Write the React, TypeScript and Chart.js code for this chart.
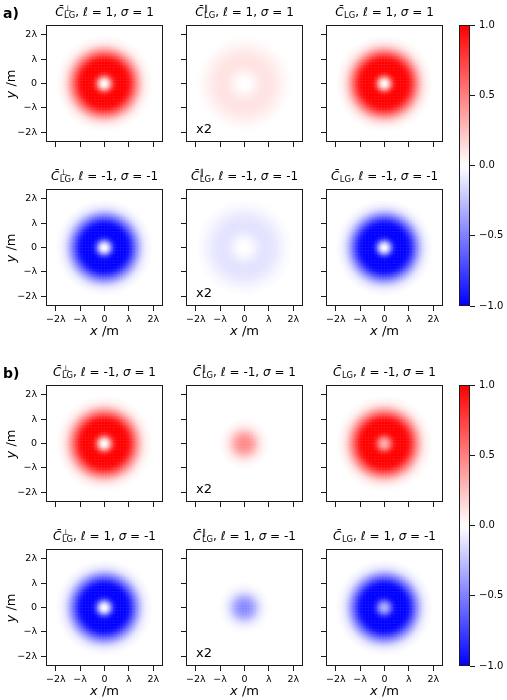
import React, { useEffect, useRef } from 'react';
import { Chart, registerables } from 'chart.js';

Chart.register(...registerables);

// ---------- data ----------
// radial positions (in units of λ) at which the colour value was read
const RADII = [0, 0.1, 0.2, 0.3, 0.4, 0.5, 0.6, 0.7, 0.8, 0.9, 1.0, 1.1, 1.2, 1.3, 1.4, 1.5, 1.6, 1.7, 1.8, 1.9, 2.0];

// group a)
const PROFILE_A_PERP = [0.0, 0.08, 0.3, 0.6, 0.85, 0.97, 1.0, 1.0, 1.0, 0.98, 0.92, 0.8, 0.65, 0.5, 0.36, 0.23, 0.13, 0.07, 0.037, 0.016, 0.0];
const PROFILE_A_PAR = [0.0, 0.0, 0.01, 0.025, 0.045, 0.065, 0.085, 0.1, 0.11, 0.11, 0.11, 0.105, 0.095, 0.085, 0.07, 0.055, 0.04, 0.028, 0.016, 0.006, 0.0];
const PROFILE_A_TOTAL = [0.0, 0.09, 0.32, 0.62, 0.87, 0.98, 1.0, 1.0, 1.0, 0.98, 0.93, 0.82, 0.67, 0.52, 0.37, 0.24, 0.14, 0.075, 0.04, 0.017, 0.0];
// group b)
const PROFILE_B_PERP = [0.0, 0.08, 0.3, 0.6, 0.85, 0.97, 1.0, 1.0, 1.0, 0.98, 0.92, 0.8, 0.65, 0.5, 0.36, 0.23, 0.13, 0.07, 0.037, 0.016, 0.0];
const PROFILE_B_PAR = [0.47, 0.46, 0.43, 0.38, 0.31, 0.23, 0.15, 0.09, 0.05, 0.025, 0.01, 0.0, 0.0, 0.0, 0.0, 0.0, 0.0, 0.0, 0.0, 0.0, 0.0];
const PROFILE_B_TOTAL = [0.33, 0.38, 0.52, 0.72, 0.9, 0.98, 1.0, 1.0, 1.0, 0.98, 0.92, 0.8, 0.65, 0.5, 0.36, 0.23, 0.13, 0.07, 0.037, 0.016, 0.0];

const ROW_SIGNS = [1, -1];
const ELL_VALUES = [['1', '-1'], ['-1', '1']];
const SIGMA_VALUES = [['1', '-1'], ['1', '-1']];
const GROUP_LABELS = ['a)', 'b)'];
const COMPONENT_SUPS = ['⊥', '∥', ''];
const SCALE_NOTES = ['', 'x2', ''];

const TICK_VALUES = [-2, -1, 0, 1, 2];
const TICK_LABELS = ['−2λ', '−λ', '0', 'λ', '2λ'];
const CBAR_TICKS = [-1, -0.5, 0, 0.5, 1];
const CBAR_LABELS = ['−1.0', '−0.5', '0.0', '0.5', '1.0'];
const AXIS_LIMIT = 2.4;

const GROUP_PROFILES = [
  [PROFILE_A_PERP, PROFILE_A_PAR, PROFILE_A_TOTAL],
  [PROFILE_B_PERP, PROFILE_B_PAR, PROFILE_B_TOTAL],
];

// ---------- layout ----------
const FONT = '"DejaVu Sans", sans-serif';
const COL_LEFT = [46, 186, 326];
const ROW_TOP = [[25, 189], [385, 549]];
const SIZE = 117;
const ML = 44, MR = 6, MT = 6, MB = 24;
const CB_LEFT = 459, CB_WIDTH = 11, CB_HEIGHT = 281;
const CML = 2, CMT = 8, CMB = 8, CW = 37;
const GRID_N = 80;
const TICK_LEN = 5;
const INK = '#1a1a1a';

function bwr(v: number): string {
  const c = Math.max(-1, Math.min(1, v));
  if (c >= 0) {
    const g = Math.round(255 * (1 - c));
    return `rgb(255,${g},${g})`;
  }
  const g = Math.round(255 * (1 + c));
  return `rgb(${g},${g},255)`;
}

function profileAt(profile: number[], r: number): number {
  const last = RADII.length - 1;
  if (r >= RADII[last]) return profile[last];
  let i = 0;
  while (i < last - 1 && RADII[i + 1] <= r) i++;
  const t = (r - RADII[i]) / (RADII[i + 1] - RADII[i]);
  return profile[i] * (1 - t) + profile[i + 1] * t;
}

function buildCells(profile: number[], sign: number) {
  const pts: { x: number; y: number }[] = [];
  const cols: string[] = [];
  const step = (2 * AXIS_LIMIT) / GRID_N;
  for (let i = 0; i < GRID_N; i++) {
    for (let j = 0; j < GRID_N; j++) {
      const x = -AXIS_LIMIT + (i + 0.5) * step;
      const y = -AXIS_LIMIT + (j + 0.5) * step;
      const v = sign * profileAt(profile, Math.hypot(x, y));
      if (Math.abs(v) < 0.002) continue;
      pts.push({ x, y });
      cols.push(bwr(v));
    }
  }
  return { pts, cols };
}

const framePlugin = {
  id: 'frame',
  afterDatasetsDraw(chart: any) {
    const { ctx, chartArea: a } = chart;
    ctx.save();
    ctx.strokeStyle = INK;
    ctx.lineWidth = 1;
    ctx.strokeRect(a.left + 0.5, a.top + 0.5, a.right - a.left - 1, a.bottom - a.top - 1);
    ctx.restore();
  },
};

function zeroPad(s: any) {
  s.paddingTop = 0;
  s.paddingBottom = 0;
  s.paddingLeft = 0;
  s.paddingRight = 0;
}

function axisOptions(horizontal: boolean, showLabels: boolean) {
  return {
    type: 'linear',
    min: -AXIS_LIMIT,
    max: AXIS_LIMIT,
    offset: false,
    afterBuildTicks: (s: any) => {
      s.ticks = TICK_VALUES.map((v) => ({ value: v }));
    },
    afterFit: (s: any) => {
      if (horizontal) s.height = MB;
      else s.width = ML;
      zeroPad(s);
    },
    ticks: {
      display: showLabels,
      autoSkip: false,
      maxRotation: 0,
      padding: horizontal ? 3 : 4,
      color: '#000',
      font: { family: FONT, size: 9.5 },
      callback: (value: any) => {
        const k = TICK_VALUES.indexOf(Number(value));
        return k >= 0 ? TICK_LABELS[k] : '';
      },
    },
    grid: {
      display: true,
      drawOnChartArea: false,
      drawTicks: true,
      tickLength: TICK_LEN,
      color: INK,
      lineWidth: 1,
    },
    border: { display: false },
  };
}

function Panel(props: { profile: number[]; sign: number; left: number; top: number; showX: boolean; showY: boolean }) {
  const ref = useRef<HTMLCanvasElement>(null);
  useEffect(() => {
    const { pts, cols } = buildCells(props.profile, props.sign);
    const side = SIZE / GRID_N;
    const chart = new Chart(ref.current as HTMLCanvasElement, {
      type: 'scatter',
      data: {
        datasets: [
          {
            data: pts,
            pointStyle: 'rect',
            pointRadius: side / Math.SQRT2 + 0.3,
            pointBorderWidth: 0,
            pointBackgroundColor: cols,
            backgroundColor: cols,
            borderWidth: 0,
            clip: 0,
          } as any,
        ],
      },
      options: {
        responsive: false,
        animation: false,
        events: [],
        layout: { padding: { top: MT, right: MR, left: 0, bottom: 0 } },
        plugins: { legend: { display: false }, tooltip: { enabled: false } },
        scales: {
          x: axisOptions(true, props.showX) as any,
          y: axisOptions(false, props.showY) as any,
        },
      },
      plugins: [framePlugin],
    });
    return () => chart.destroy();
  }, []);
  const w = ML + SIZE + MR;
  const h = MT + SIZE + MB;
  return (
    <canvas
      ref={ref}
      width={w}
      height={h}
      style={{ position: 'absolute', left: props.left - ML, top: props.top - MT, width: w, height: h }}
    />
  );
}

// the colour bar shows the colour map sampled over its full range
const CBAR_LEVELS: number[] = [];
for (let i = 0; i < 140; i++) CBAR_LEVELS.push(-1 + (i + 0.5) * (2 / 140));

function ColorBar(props: { top: number }) {
  const ref = useRef<HTMLCanvasElement>(null);
  useEffect(() => {
    const chart = new Chart(ref.current as HTMLCanvasElement, {
      type: 'bar',
      data: {
        datasets: [
          {
            data: CBAR_LEVELS.map((v) => ({ x: 1, y: v })),
            backgroundColor: CBAR_LEVELS.map(bwr),
            borderWidth: 0,
            barPercentage: 1,
            categoryPercentage: 1,
          } as any,
        ],
      },
      options: {
        indexAxis: 'y',
        responsive: false,
        animation: false,
        events: [],
        layout: { padding: { left: CML, top: CMT, bottom: CMB, right: 0 } },
        plugins: { legend: { display: false }, tooltip: { enabled: false } },
        scales: {
          x: { type: 'linear', display: false, min: 0, max: 1, offset: false },
          y: {
            type: 'linear',
            position: 'right',
            min: -1,
            max: 1,
            offset: false,
            afterBuildTicks: (s: any) => {
              s.ticks = CBAR_TICKS.map((v) => ({ value: v }));
            },
            afterFit: (s: any) => {
              s.width = CW;
              zeroPad(s);
            },
            ticks: {
              autoSkip: false,
              padding: 4,
              color: '#000',
              font: { family: FONT, size: 10 },
              callback: (value: any) => {
                const k = CBAR_TICKS.indexOf(Number(value));
                return k >= 0 ? CBAR_LABELS[k] : '';
              },
            },
            grid: { display: true, drawOnChartArea: false, drawTicks: true, tickLength: TICK_LEN, color: INK, lineWidth: 1, offset: false },
            border: { display: false },
          },
        } as any,
      },
      plugins: [framePlugin],
    });
    return () => chart.destroy();
  }, []);
  const w = CML + CB_WIDTH + CW;
  const h = CMT + CB_HEIGHT + CMB;
  return (
    <canvas
      ref={ref}
      width={w}
      height={h}
      style={{ position: 'absolute', left: CB_LEFT - CML, top: props.top - CMT, width: w, height: h }}
    />
  );
}

function Title(props: { sup: string; ell: string; sigma: string; cx: number; baseline: number }) {
  return (
    <div
      style={{
        position: 'absolute',
        left: props.cx,
        top: props.baseline - 11.3,
        transform: 'translateX(-50%)',
        whiteSpace: 'nowrap',
        fontFamily: FONT,
        fontSize: 12,
        lineHeight: '14px',
        color: '#000',
      }}
    >
      <i>{'C\u0304'}</i>
      <span
        style={{
          display: 'inline-block',
          verticalAlign: '-1.6px',
          fontSize: 8.4,
          lineHeight: '6.8px',
          textAlign: 'left',
          marginLeft: 0.5,
        }}
      >
        <span style={{ display: 'block' }}>{props.sup || '\u00a0'}</span>
        <span style={{ display: 'block' }}>LG</span>
      </span>
      {', '}
      <i>ℓ</i>
      {' = ' + props.ell + ', '}
      <i>σ</i>
      {' = ' + props.sigma}
    </div>
  );
}

export default function App() {
  const canvases: React.ReactNode[] = [];
  const texts: React.ReactNode[] = [];
  for (let g = 0; g < 2; g++) {
    const tops = ROW_TOP[g];
    texts.push(
      <div
        key={`gl${g}`}
        style={{ position: 'absolute', left: 3, top: tops[0] - 8 - 11.2, fontFamily: FONT, fontWeight: 'bold', fontSize: 14, lineHeight: '14px' }}
      >
        {GROUP_LABELS[g]}
      </div>
    );
    for (let r = 0; r < 2; r++) {
      const top = tops[r];
      for (let c = 0; c < 3; c++) {
        const left = COL_LEFT[c];
        canvases.push(
          <Panel
            key={`p${g}${r}${c}`}
            profile={GROUP_PROFILES[g][c]}
            sign={ROW_SIGNS[r]}
            left={left}
            top={top}
            showX={r === 1}
            showY={c === 0}
          />
        );
        texts.push(
          <Title
            key={`t${g}${r}${c}`}
            sup={COMPONENT_SUPS[c]}
            ell={ELL_VALUES[g][r]}
            sigma={SIGMA_VALUES[g][r]}
            cx={left + SIZE / 2}
            baseline={top - 8.3}
          />
        );
        if (SCALE_NOTES[c]) {
          texts.push(
            <div
              key={`n${g}${r}${c}`}
              style={{ position: 'absolute', left: left + 10, top: top + SIZE - 19.7, fontFamily: FONT, fontSize: 13, lineHeight: '13px' }}
            >
              {SCALE_NOTES[c]}
            </div>
          );
        }
        if (r === 1) {
          texts.push(
            <div
              key={`xl${g}${c}`}
              style={{
                position: 'absolute',
                left: left + SIZE / 2,
                top: top + SIZE + 24,
                transform: 'translate(-50%, -50%)',
                whiteSpace: 'nowrap',
                fontFamily: FONT,
                fontSize: 13,
                lineHeight: '13px',
              }}
            >
              <i>x</i> /m
            </div>
          );
        }
      }
      texts.push(
        <div
          key={`yl${g}${r}`}
          style={{
            position: 'absolute',
            left: 10,
            top: top + SIZE / 2,
            transform: 'translate(-50%, -50%) rotate(-90deg)',
            whiteSpace: 'nowrap',
            fontFamily: FONT,
            fontSize: 13,
            lineHeight: '13px',
          }}
        >
          <i>y</i> /m
        </div>
      );
    }
    canvases.push(<ColorBar key={`cb${g}`} top={tops[0]} />);
  }
  return (
    <div style={{ position: 'absolute', left: 0, top: 0, width: 507, height: 700, background: '#fff', overflow: 'hidden' }}>
      {canvases}
      {texts}
    </div>
  );
}
